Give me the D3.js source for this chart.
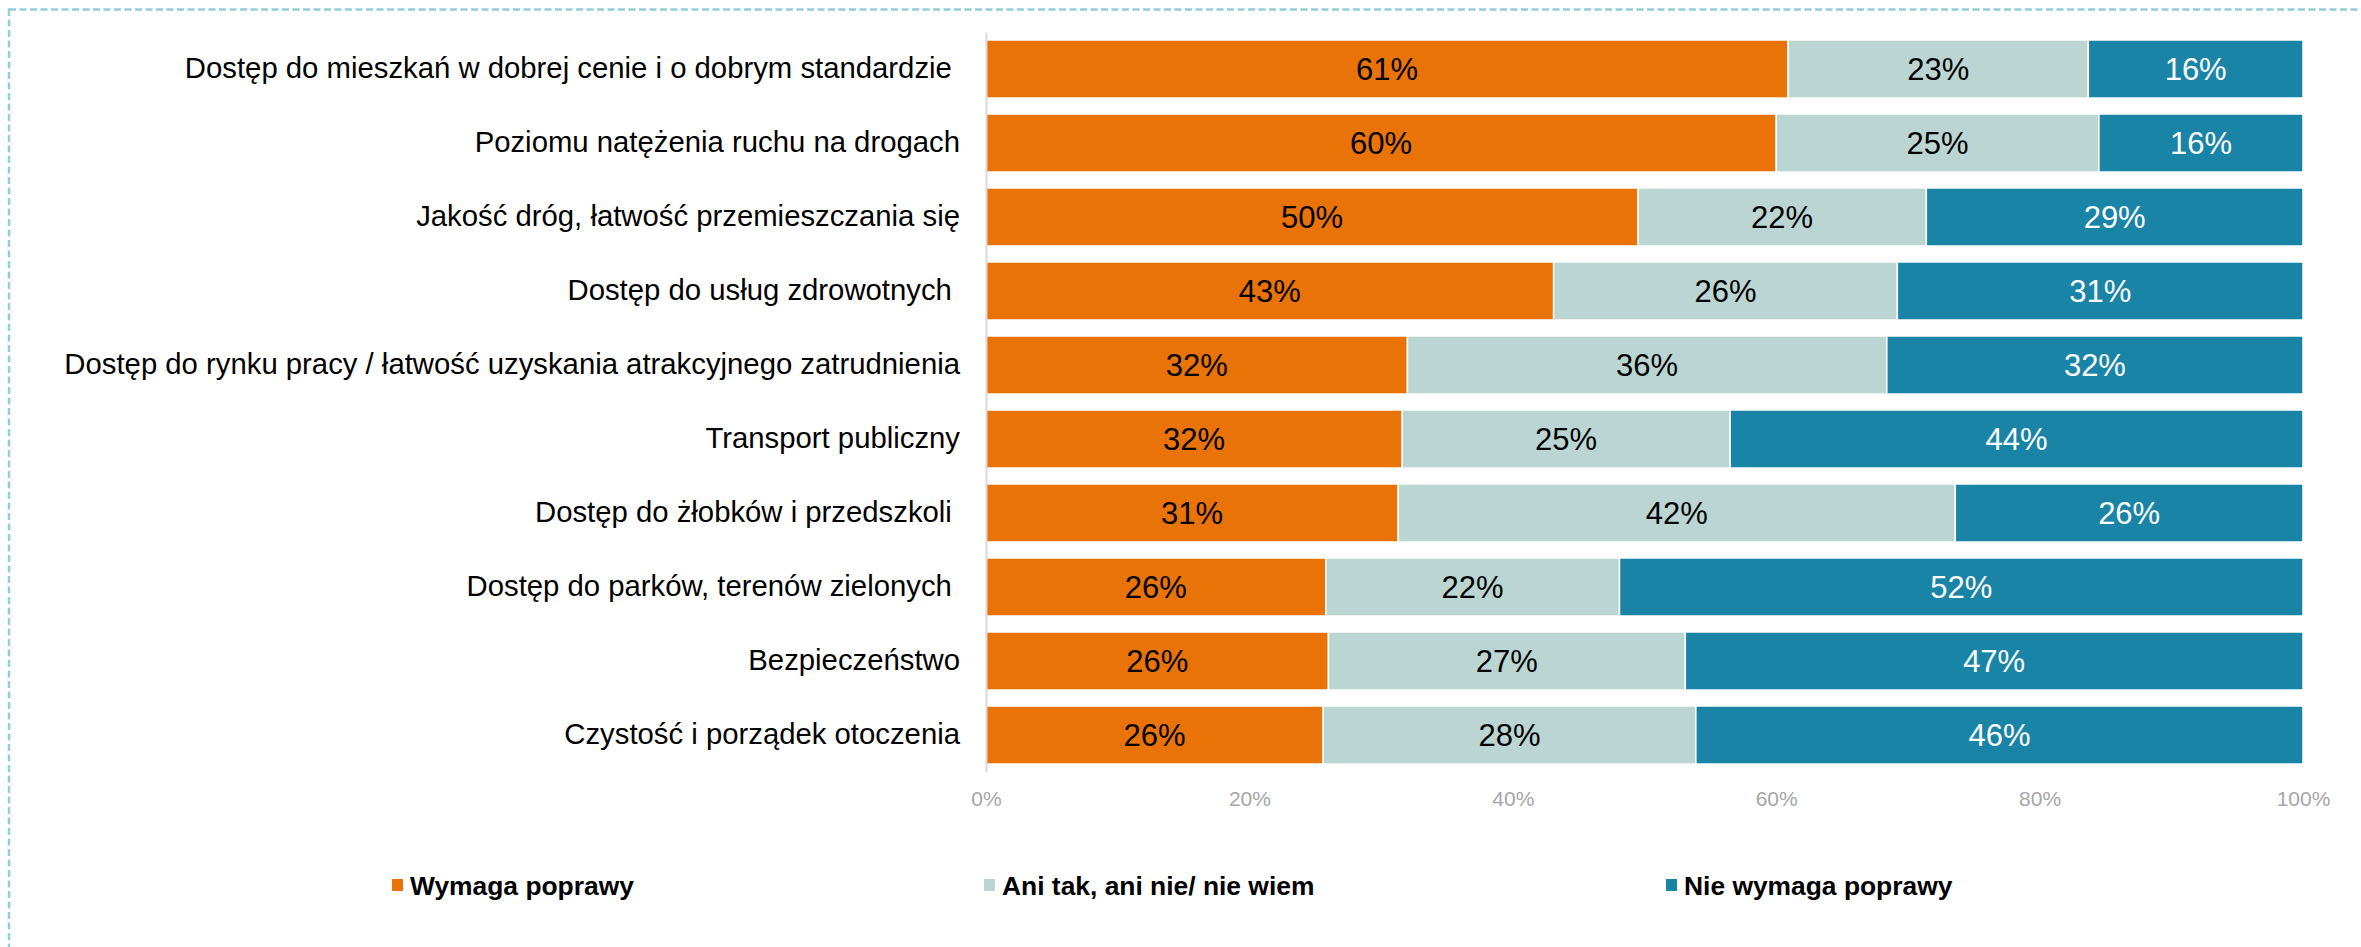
<!DOCTYPE html>
<html>
<head>
<meta charset="utf-8">
<script src="https://cdn.jsdelivr.net/npm/d3@7"></script>
<style>
  html, body { margin: 0; padding: 0; background: #fff; }
  svg { display: block; }
  text { font-family: "Liberation Sans", Arial, sans-serif; }
</style>
</head>
<body>
<svg id="chart" width="2361" height="947"></svg>
<script>
// ---- data ----
const categories = [
  "Dostęp do mieszkań w dobrej cenie i o dobrym standardzie ",
  "Poziomu natężenia ruchu na drogach",
  "Jakość dróg, łatwość przemieszczania się",
  "Dostęp do usług zdrowotnych ",
  "Dostęp do rynku pracy / łatwość uzyskania atrakcyjnego zatrudnienia",
  "Transport publiczny",
  "Dostęp do żłobków i przedszkoli ",
  "Dostęp do parków, terenów zielonych ",
  "Bezpieczeństwo",
  "Czystość i porządek otoczenia"
];
const seriesNames = ["Wymaga poprawy", "Ani tak, ani nie/ nie wiem", "Nie wymaga poprawy"];
const wymagaPoprawy    = [60.9, 60.0, 49.5, 43.1, 32.0, 31.6, 31.3, 25.8, 26.0, 25.6];
const aniTakAniNie     = [22.8, 24.5, 21.9, 26.1, 36.4, 24.9, 42.3, 22.3, 27.1, 28.3];
const nieWymagaPoprawy = [16.3, 15.5, 28.6, 30.8, 31.6, 43.5, 26.4, 51.9, 46.9, 46.1];
const xTicks = [0, 20, 40, 60, 80, 100];

const seriesValues = [wymagaPoprawy, aniTakAniNie, nieWymagaPoprawy];
const colors = ["#E97306", "#BBD6D2", "#1A84A6"];
const labelColors = ["#000", "#000", "#fff"];

// ---- build table ----
const rows = categories.map((c, i) => {
  const r = { cat: c };
  seriesNames.forEach((s, k) => r[s] = seriesValues[k][i]);
  return r;
});
const stacked = d3.stack().keys(seriesNames)(rows);

const svg = d3.select("#chart");

// dashed frame (only top and left visible in the reference)
svg.append("rect")
  .attr("x", 9).attr("y", 9.5)
  .attr("width", 2400).attr("height", 1000)
  .attr("fill", "none")
  .attr("stroke", "#92CDDC")
  .attr("stroke-width", 2.5)
  .attr("stroke-dasharray", "7,3.5");

const x = d3.scaleLinear().domain([0, 100]).range([986, 2303]);
const y = d3.scaleBand().domain(categories).range([32, 772])
  .paddingInner(0.216).paddingOuter(0.108);

// bars
const g = svg.append("g");
stacked.forEach((layer, k) => {
  g.append("g").selectAll("rect")
    .data(layer)
    .join("rect")
    .attr("x", d => x(d[0]))
    .attr("y", d => y(d.data.cat))
    .attr("width", d => x(d[1]) - x(d[0]))
    .attr("height", y.bandwidth())
    .attr("fill", colors[k])
    .attr("stroke", "#fff")
    .attr("stroke-width", 1.5);
  g.append("g").selectAll("text")
    .data(layer)
    .join("text")
    .attr("x", d => (x(d[0]) + x(d[1])) / 2)
    .attr("y", d => y(d.data.cat) + y.bandwidth() / 2)
    .attr("dy", "0.36em")
    .attr("text-anchor", "middle")
    .attr("font-size", 31)
    .attr("fill", labelColors[k])
    .text(d => Math.round(d[1] - d[0] + 1e-9) + "%");
});

// y axis (categories)
const yAxis = svg.append("g")
  .attr("transform", `translate(${x(0)},0)`)
  .call(d3.axisLeft(y).tickSizeInner(0).tickSizeOuter(0).tickPadding(26));
yAxis.select(".domain").attr("stroke", "#D9D9D9").attr("stroke-width", 2);
yAxis.selectAll(".tick text")
  .attr("font-size", 29.3)
  .attr("fill", "#000")
  .attr("font-family", "'Liberation Sans', Arial, sans-serif")
  .style("white-space", "pre");

// x axis
const xAxis = svg.append("g")
  .attr("transform", `translate(0,772)`)
  .call(d3.axisBottom(x).tickValues(xTicks).tickFormat(d => d + "%").tickSize(0).tickPadding(0));
xAxis.select(".domain").remove();
xAxis.selectAll(".tick text")
  .attr("font-size", 21)
  .attr("fill", "#A6A6A6")
  .attr("font-family", "'Liberation Sans', Arial, sans-serif")
  .attr("dy", null)
  .attr("y", 34);

// legend
const legendX = [392, 984, 1666];
const legend = svg.append("g");
seriesNames.forEach((s, k) => {
  legend.append("rect")
    .attr("x", legendX[k]).attr("y", 879)
    .attr("width", 11).attr("height", 12)
    .attr("fill", colors[k]);
  legend.append("text")
    .attr("x", legendX[k] + 18).attr("y", 885)
    .attr("dy", "0.36em")
    .attr("font-size", 26.4)
    .attr("font-weight", "bold")
    .attr("fill", "#000")
    .text(s);
});
</script>
</body>
</html>
